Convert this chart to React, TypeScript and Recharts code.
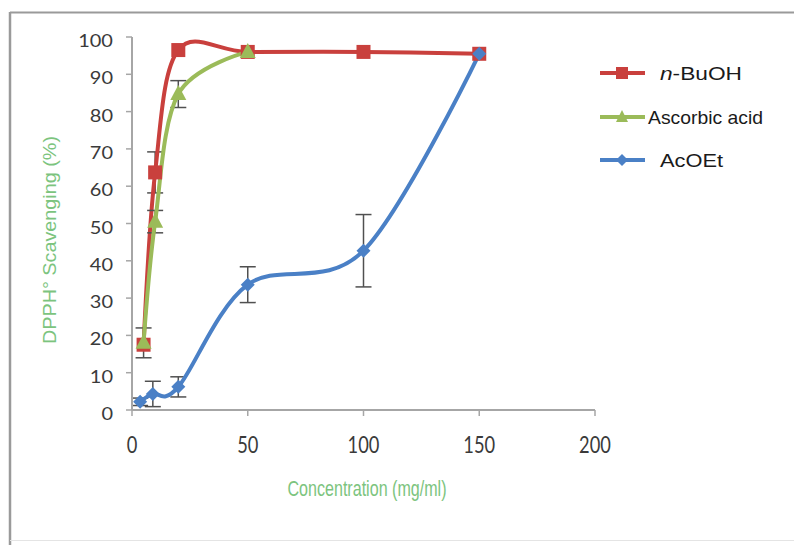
import React from 'react';
import { LineChart, Line, XAxis, YAxis, ErrorBar } from 'recharts';

// concentrations (mg/ml) and scavenging values (%)
const butanolConc = [5, 10, 20, 50, 100, 150];
const butanolValues = [17.5, 63.7, 96.5, 96, 96, 95.5];
const butanolErrors = [0, 5.5, 0, 0, 0, 0];

const ascorbicConc = [5, 10, 20, 50];
const ascorbicValues = [18, 50.5, 84.7, 96];
const ascorbicErrors = [4, 3, 3.6, 0];

const acoetConc = [3.5, 9, 20, 50, 100, 150];
const acoetValues = [2.2, 4.3, 6.2, 33.6, 42.7, 95.5];
const acoetErrors = [1, 3.4, 2.7, 4.8, 9.7, 0];

const xTicks = [0, 50, 100, 150, 200];
const yTicks = [0, 10, 20, 30, 40, 50, 60, 70, 80, 90, 100];

const RED = '#C9403D';
const GREEN = '#9BBB59';
const BLUE = '#4A80C6';
const AXIS = '#A6A6A6';
const TITLE_GREEN = '#7CC47E';

const toRows = (xs: number[], ys: number[], errs: number[]) =>
  xs.map((x, i) => ({ x, y: ys[i], err: errs[i] }));

const butanolData = toRows(butanolConc, butanolValues, butanolErrors);
const ascorbicData = toRows(ascorbicConc, ascorbicValues, ascorbicErrors);
const acoetData = toRows(acoetConc, acoetValues, acoetErrors);

// Excel-like smoothed line (uniform Catmull-Rom / cardinal with tension 0)
class SmoothCurve {
  _context: any;
  _k = 1 / 6;
  _line = NaN;
  _point = 0;
  _x0 = NaN; _x1 = NaN; _x2 = NaN;
  _y0 = NaN; _y1 = NaN; _y2 = NaN;
  constructor(context: any) {
    this._context = context;
  }
  areaStart() { this._line = 0; }
  areaEnd() { this._line = NaN; }
  lineStart() {
    this._x0 = this._x1 = this._x2 = this._y0 = this._y1 = this._y2 = NaN;
    this._point = 0;
  }
  lineEnd() {
    if (this._point === 2) this._context.lineTo(this._x2, this._y2);
    else if (this._point === 3) this.bezier(this._x1, this._y1);
    if (this._line || (this._line !== 0 && this._point === 1)) this._context.closePath();
    this._line = 1 - this._line;
  }
  bezier(x: number, y: number) {
    this._context.bezierCurveTo(
      this._x1 + this._k * (this._x2 - this._x0),
      this._y1 + this._k * (this._y2 - this._y0),
      this._x2 + this._k * (this._x1 - x),
      this._y2 + this._k * (this._y1 - y),
      this._x2,
      this._y2
    );
  }
  point(x: number, y: number) {
    x = +x; y = +y;
    if (this._point === 0) {
      this._point = 1;
      this._line ? this._context.lineTo(x, y) : this._context.moveTo(x, y);
    } else if (this._point === 1) {
      this._point = 2;
      this._x1 = x; this._y1 = y;
    } else {
      this._point = 3;
      this.bezier(x, y);
    }
    this._x0 = this._x1; this._x1 = this._x2; this._x2 = x;
    this._y0 = this._y1; this._y1 = this._y2; this._y2 = y;
  }
}
const smooth = (context: any) => new SmoothCurve(context);

const SquareDot = (props: any) => {
  const { cx, cy, index } = props;
  if (cx == null || cy == null) return null;
  return <rect key={`sq-${index}`} x={cx - 7} y={cy - 7} width={14} height={14} fill={RED} />;
};

const TriangleDot = (props: any) => {
  const { cx, cy, index } = props;
  if (cx == null || cy == null) return null;
  return (
    <polygon
      key={`tr-${index}`}
      points={`${cx},${cy - 9} ${cx + 8},${cy + 6} ${cx - 8},${cy + 6}`}
      fill={GREEN}
    />
  );
};

const DiamondDot = (props: any) => {
  const { cx, cy, index } = props;
  if (cx == null || cy == null) return null;
  return (
    <polygon
      key={`di-${index}`}
      points={`${cx},${cy - 7} ${cx + 7},${cy} ${cx},${cy + 7} ${cx - 7},${cy}`}
      fill={BLUE}
    />
  );
};

const YTick = (props: any) => {
  const { x, y, payload } = props;
  const label = String(payload.value);
  return (
    <text
      x={x - 11}
      y={y + 3.5}
      textAnchor="end"
      dominantBaseline="central"
      fontFamily="Lato, sans-serif"
      fontSize={17}
      fill="#3a3a3a"
      textLength={label.length * 11.6}
      lengthAdjust="spacingAndGlyphs"
    >
      {label}
    </text>
  );
};

const XTick = (props: any) => {
  const { x, y, payload } = props;
  const label = String(payload.value);
  return (
    <text
      x={x}
      y={y + 25}
      textAnchor="middle"
      dominantBaseline="central"
      fontFamily="Lato, sans-serif"
      fontSize={24}
      fill="#3a3a3a"
      textLength={label.length * 10.6}
      lengthAdjust="spacingAndGlyphs"
    >
      {label}
    </text>
  );
};

const legendItems = [
  { label: 'BuOH', italic: 'n', color: RED, shape: 'square', y: 73, textX: 660, len: 82 },
  { label: 'Ascorbic acid', italic: '', color: GREEN, shape: 'triangle', y: 117, textX: 648, len: 115 },
  { label: 'AcOEt', italic: '', color: BLUE, shape: 'diamond', y: 160, textX: 660, len: 63 },
];

function LegendMarker({ shape, color, cx, cy }: any) {
  if (shape === 'square') return <rect x={cx - 6} y={cy - 6} width={12} height={12} fill={color} />;
  if (shape === 'triangle')
    return <polygon points={`${cx},${cy - 7} ${cx + 6},${cy + 5} ${cx - 6},${cy + 5}`} fill={color} />;
  return <polygon points={`${cx},${cy - 6} ${cx + 6},${cy} ${cx},${cy + 6} ${cx - 6},${cy}`} fill={color} />;
}

export default function App() {
  return (
    <div style={{ position: 'absolute', left: 0, top: 0, width: 794, height: 545, background: '#fff' }}>
      <LineChart
        width={794}
        height={545}
        margin={{ top: 37, right: 199, left: 0, bottom: 105 }}
        style={{ position: 'absolute', left: 0, top: 0 }}
      >
        <XAxis
          type="number"
          dataKey="x"
          domain={[0, 200]}
          ticks={xTicks}
          height={30}
          tick={<XTick />}
          tickSize={6}
          axisLine={{ stroke: AXIS, strokeWidth: 2 }}
          tickLine={{ stroke: AXIS, strokeWidth: 1.5 }}
          allowDataOverflow
        />
        <YAxis
          type="number"
          domain={[0, 100]}
          ticks={yTicks}
          width={132}
          tick={<YTick />}
          tickSize={6}
          axisLine={{ stroke: AXIS, strokeWidth: 2 }}
          tickLine={{ stroke: AXIS, strokeWidth: 1.5 }}
          allowDataOverflow
        />
        <Line
          data={butanolData}
          dataKey="y"
          type={smooth as any}
          stroke={RED}
          strokeWidth={4}
          dot={SquareDot}
          activeDot={false}
          isAnimationActive={false}
        >
          <ErrorBar dataKey="err" direction="y" width={8} stroke="#505050" strokeWidth={1.5} />
        </Line>
        <Line
          data={ascorbicData}
          dataKey="y"
          type={smooth as any}
          stroke={GREEN}
          strokeWidth={4}
          dot={TriangleDot}
          activeDot={false}
          isAnimationActive={false}
        >
          <ErrorBar dataKey="err" direction="y" width={8} stroke="#505050" strokeWidth={1.5} />
        </Line>
        <Line
          data={acoetData}
          dataKey="y"
          type={smooth as any}
          stroke={BLUE}
          strokeWidth={4}
          dot={DiamondDot}
          activeDot={false}
          isAnimationActive={false}
        >
          <ErrorBar dataKey="err" direction="y" width={8} stroke="#505050" strokeWidth={1.5} />
        </Line>
      </LineChart>

      <svg
        width={794}
        height={545}
        style={{ position: 'absolute', left: 0, top: 0, pointerEvents: 'none' }}
      >
        {/* frame */}
        <line x1={10} y1={12.5} x2={794} y2={12.5} stroke="#9a9a9a" strokeWidth={2} />
        <line x1={10} y1={12} x2={10} y2={545} stroke="#9a9a9a" strokeWidth={2.5} />
        <line x1={10} y1={540.5} x2={794} y2={540.5} stroke="#e4e4e4" strokeWidth={1} />

        {/* axis titles */}
        <text
          x={367}
          y={496}
          textAnchor="middle"
          fontFamily="'Liberation Sans', Arial, sans-serif"
          fontSize={22}
          fill={TITLE_GREEN}
          textLength={159}
          lengthAdjust="spacingAndGlyphs"
        >
          Concentration (mg/ml)
        </text>
        <text
          transform="translate(56, 240) rotate(-90)"
          textAnchor="middle"
          fontFamily="'Liberation Sans', Arial, sans-serif"
          fontSize={19}
          fill={TITLE_GREEN}
          textLength={208}
          lengthAdjust="spacingAndGlyphs"
        >
          DPPH° Scavenging (%)
        </text>

        {/* legend */}
        {legendItems.map((it) => (
          <g key={it.label}>
            <line x1={600} y1={it.y} x2={645} y2={it.y} stroke={it.color} strokeWidth={4} />
            <LegendMarker shape={it.shape} color={it.color} cx={622} cy={it.y} />
            <text
              x={it.textX}
              y={it.y + 6.5}
              fontFamily="'Liberation Sans', Arial, sans-serif"
              fontSize={19}
              fill="#1a1a1a"
              textLength={it.len}
              lengthAdjust="spacingAndGlyphs"
            >
              {it.italic ? <tspan fontStyle="italic">{it.italic}</tspan> : null}
              {it.italic ? '-' : ''}
              {it.label}
            </text>
          </g>
        ))}
      </svg>
    </div>
  );
}
